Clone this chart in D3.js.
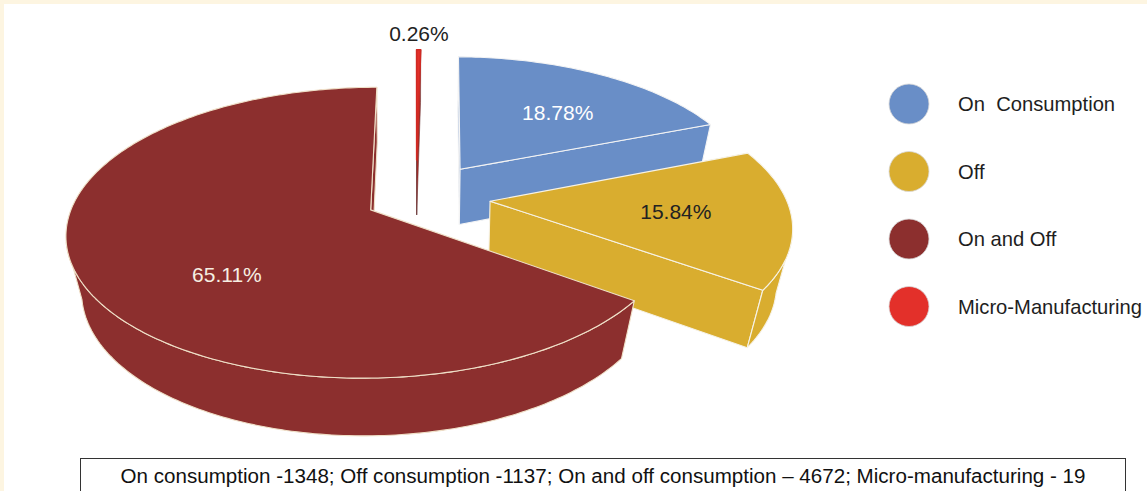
<!DOCTYPE html>
<html>
<head>
<meta charset="utf-8">
<script src="https://cdn.jsdelivr.net/npm/d3@7"></script>
<style>
  html, body { margin: 0; padding: 0; background: #fdf5e1; }
  svg { display: block; }
  text { font-family: "Liberation Sans", Arial, Helvetica, sans-serif; }
</style>
</head>
<body>
<svg id="chart" width="1147" height="491"></svg>
<script>
// data
const categories = ["On  Consumption", "Off", "On and Off", "Micro-Manufacturing"];
const counts = [1348, 1137, 4672, 19];
const footnote = "On consumption -1348; Off consumption -1137; On and off consumption \u2013 4672; Micro-manufacturing - 19";

// styles per slice
const colors = ["#698ec7", "#d9ad2f", "#8c2f2e", "#e3302a"];
const explode = [0.27, 0.25, 0.17, 0.294];
const explodeShift = [0, -3.5, 0, 0]; // degrees
const labelPos = [{ r: 0.6, da: 4 }, { r: 0.62, da: 0 }, { r: 0.61, da: -17 }, { r: 1.17, da: 0 }];
const labelColor = ["#ffffff", "#222222", "#f6eee2", "#222222"];
const sideShade = [0, 0, 0, 0.7];
const edgeColor = ["#f4f4f4", "#f6f2e6", "#efe0c8", "#6b3a3a"];
const topEdge = ["#f4f4f4", "#f6f2e6", "#efe0c8", "#d02a23"];

// 3d view
const cx = 416, cy = 199, f = 1688, D = 5.7, h = 0.22, taper = 0.97;
const tilt = Math.asin(0.4675);
const sinT = Math.sin(tilt), cosT = Math.cos(tilt);
const cam = [0, -D * cosT, D * sinT];

function project(p) {
  const [X, Y, Z] = p;
  const d = D + Y * cosT - Z * sinT;
  return [cx + (f * X) / d, cy - (f * (Y * sinT + Z * cosT)) / d];
}

const svg = d3.select("#chart");

// white panel on cream frame
svg.append("rect").attr("x", 4).attr("y", 4).attr("width", 1143).attr("height", 487).attr("fill", "#ffffff");

const rows = categories.map((c, i) => ({ name: c, count: counts[i], i }));
const total = d3.sum(counts);
const pct = d3.format(".2%");

// micro-manufacturing sits at 12 o'clock, the rest follow clockwise
const a0 = (2 * Math.PI * counts[3]) / total;
const arcs = d3.pie().sort(null).value((d) => d.count).startAngle(a0).endAngle(a0 + 2 * Math.PI)(rows);

arcs.forEach((a) => {
  const i = a.data.i;
  const mid = (a.startAngle + a.endAngle) / 2 + (explodeShift[i] * Math.PI) / 180;
  a.mid = (a.startAngle + a.endAngle) / 2;
  a.ox = explode[i] * Math.sin(mid);
  a.oy = explode[i] * Math.cos(mid);
});

// rim point: top rim has radius 1, bottom rim is slightly tapered
const rim = (a, t, z) => {
  const r = z < 0 ? taper : 1;
  return [a.ox + r * Math.sin(t), a.oy + r * Math.cos(t), z];
};
const facing = (n, p) => n[0] * (cam[0] - p[0]) + n[1] * (cam[1] - p[1]) + n[2] * (cam[2] - p[2]) > 0;
const poly = (pts) => d3.line()(pts.map(project)) + "Z";

// far slices first
const order = arcs.slice().sort((a, b) => {
  const dist = (s) => {
    const p = [s.ox + 0.5 * Math.sin(s.mid), s.oy + 0.5 * Math.cos(s.mid), 0];
    return Math.hypot(p[0] - cam[0], p[1] - cam[1], p[2] - cam[2]);
  };
  return dist(b) - dist(a);
});

const gPie = svg.append("g").attr("class", "pie3d");

order.forEach((a) => {
  const i = a.data.i;
  const g = gPie.append("g").attr("class", "slice");
  const fill = colors[i];
  const side = sideShade[i] ? d3.color(fill).darker(sideShade[i]).formatHex() : fill;
  const apexTop = [a.ox, a.oy, 0];
  const apexBot = [a.ox, a.oy, -h];

  const n = Math.max(2, Math.ceil((a.endAngle - a.startAngle) / (Math.PI / 180)));
  const ts = d3.range(n + 1).map((k) => a.startAngle + ((a.endAngle - a.startAngle) * k) / n);

  const faces = [];
  // radial faces
  const nStart = [-Math.cos(a.startAngle), Math.sin(a.startAngle), 0];
  if (facing(nStart, apexBot)) {
    faces.push([apexTop, rim(a, a.startAngle, 0), rim(a, a.startAngle, -h), apexBot]);
  }
  const nEnd = [Math.cos(a.endAngle), -Math.sin(a.endAngle), 0];
  if (facing(nEnd, apexBot)) {
    faces.push([apexTop, rim(a, a.endAngle, 0), rim(a, a.endAngle, -h), apexBot]);
  }
  // outer wall, grouped into visible runs
  let run = null;
  const wall = (r) => r.map((t) => rim(a, t, 0)).concat(r.slice().reverse().map((t) => rim(a, t, -h)));
  for (let k = 0; k < n; k++) {
    const m = (ts[k] + ts[k + 1]) / 2;
    const vis = facing([Math.sin(m), Math.cos(m), 0], rim(a, m, -h / 2));
    if (vis) {
      if (!run) run = [ts[k]];
      run.push(ts[k + 1]);
    } else if (run) {
      faces.push(wall(run));
      run = null;
    }
  }
  if (run) faces.push(wall(run));

  const sw = i === 3 ? 0.6 : 1.1;
  g.selectAll("path.side")
    .data(faces)
    .join("path")
    .attr("class", "side")
    .attr("d", poly)
    .attr("fill", side)
    .attr("stroke", edgeColor[i])
    .attr("stroke-width", sw)
    .attr("stroke-linejoin", "round");

  const top = [apexTop].concat(ts.map((t) => rim(a, t, 0)));
  g.append("path")
    .attr("class", "top")
    .attr("d", poly(top))
    .attr("fill", fill)
    .attr("stroke", topEdge[i])
    .attr("stroke-width", i === 3 ? 1.6 : 1.1)
    .attr("stroke-linejoin", "round");
});

// percentage labels
svg.append("g")
  .selectAll("text")
  .data(arcs)
  .join("text")
  .attr("transform", (a) => {
    const lp = labelPos[a.data.i];
    const t = a.mid + (lp.da * Math.PI) / 180;
    const [x, y] = project([a.ox + lp.r * Math.sin(t), a.oy + lp.r * Math.cos(t), 0]);
    return `translate(${x},${y})`;
  })
  .attr("text-anchor", "middle")
  .attr("dy", "0.35em")
  .attr("font-size", 21)
  .attr("fill", (a) => labelColor[a.data.i])
  .text((a) => pct(a.data.count / total));

// legend
const legend = svg.append("g").attr("transform", "translate(909,104)");
const ly = d3.scalePoint().domain(categories).range([0, 202.5]);
const item = legend.selectAll("g").data(categories).join("g").attr("transform", (d) => `translate(0,${ly(d)})`);
item.append("circle").attr("r", 20).attr("fill", (d, i) => colors[i]).attr("stroke", "#d8d8d8").attr("stroke-width", 0.8);
item.append("text")
  .attr("x", 49)
  .attr("dy", "0.35em")
  .attr("font-size", 20.2)
  .attr("fill", "#1e1e1e")
  .style("white-space", "pre")
  .text((d) => d);

// footnote box
svg.append("rect")
  .attr("x", 80.5).attr("y", 458.5).attr("width", 1045).attr("height", 40)
  .attr("fill", "#ffffff").attr("stroke", "#333").attr("stroke-width", 1);
svg.append("text")
  .attr("x", 603).attr("y", 483)
  .attr("text-anchor", "middle")
  .attr("font-size", 20)
  .attr("fill", "#111")
  .attr("textLength", 965)
  .attr("lengthAdjust", "spacingAndGlyphs")
  .text(footnote);
</script>
</body>
</html>
